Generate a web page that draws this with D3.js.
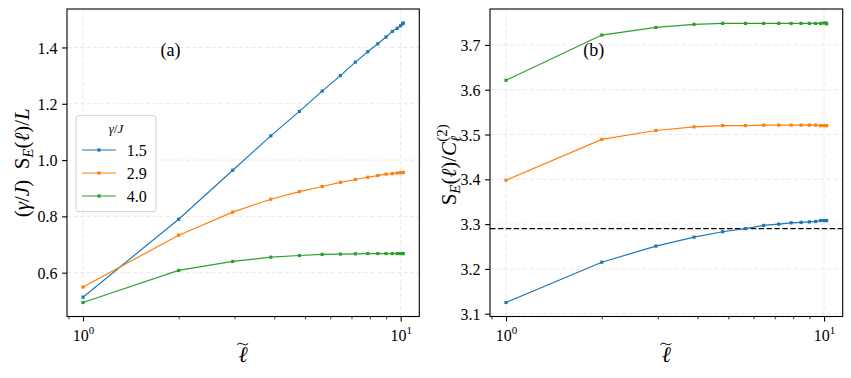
<!DOCTYPE html>
<html>
<head>
<meta charset="utf-8">
<script src="https://cdn.jsdelivr.net/npm/d3@7"></script>
<style>
  body { margin: 0; background: #fff; }
  text { font-family: "Liberation Serif", "Times New Roman", serif; }
</style>
</head>
<body>
<div id="chart"></div>
<script>
// 데이터
const ellTilde = [1.0, 2.0, 2.96, 3.90, 4.80, 5.66, 6.46, 7.20, 7.88, 8.47, 8.99, 9.41, 9.75, 9.99, 10.14, 10.19];
const gammaLabels = ["1.5", "2.9", "4.0"];
const colors = ["#1f77b4", "#ff7f0e", "#2ca02c"];

// (a) (γ/J) S_E(ℓ)/L
const leftG15 = [0.513, 0.790, 0.964, 1.086, 1.173, 1.245, 1.300, 1.348, 1.385, 1.413, 1.437, 1.457, 1.468, 1.477, 1.484, 1.487];
const leftG29 = [0.549, 0.733, 0.815, 0.861, 0.888, 0.906, 0.921, 0.931, 0.939, 0.945, 0.950, 0.952, 0.954, 0.955, 0.956, 0.956];
const leftG40 = [0.494, 0.608, 0.640, 0.655, 0.661, 0.665, 0.666, 0.667, 0.668, 0.668, 0.668, 0.668, 0.668, 0.668, 0.668, 0.668];

// (b) S_E(ℓ)/C_ℓ^(2)
const rightG15 = [3.125, 3.215, 3.251, 3.271, 3.283, 3.290, 3.297, 3.300, 3.303, 3.304, 3.305, 3.306, 3.308, 3.308, 3.308, 3.308];
const rightG29 = [3.398, 3.489, 3.509, 3.517, 3.520, 3.520, 3.521, 3.521, 3.521, 3.521, 3.521, 3.521, 3.520, 3.520, 3.520, 3.520];
const rightG40 = [3.621, 3.722, 3.739, 3.746, 3.748, 3.748, 3.748, 3.748, 3.748, 3.748, 3.748, 3.748, 3.748, 3.749, 3.749, 3.747];
const refLine = 3.29;

const leftTicks = [0.6, 0.8, 1.0, 1.2, 1.4];
const rightTicks = [3.1, 3.2, 3.3, 3.4, 3.5, 3.6, 3.7];
const xMajor = [1, 10];
const xMinor = [0.9, 2, 3, 4, 5, 6, 7, 8, 9];

const serif = "Liberation Serif";
const width = 851, height = 378;
const svg = d3.select("#chart").append("svg")
  .attr("width", width).attr("height", height);

// 로그축 여백 5% (matplotlib 기본)
function logDomain(xs) {
  const lo = Math.log10(d3.min(xs)), hi = Math.log10(d3.max(xs));
  const m = (hi - lo) * 0.05;
  return [Math.pow(10, lo - m), Math.pow(10, hi + m)];
}
function linDomain(vals) {
  const lo = d3.min(vals), hi = d3.max(vals);
  const m = (hi - lo) * 0.05;
  return [lo - m, hi + m];
}

function drawPanel(box, series, yTicks, tag, hline) {
  const g = svg.append("g");
  const x = d3.scaleLog().domain(logDomain(ellTilde)).range([box.x0, box.x1]);
  const y = d3.scaleLinear().domain(linDomain(series.flat())).range([box.y1, box.y0]);

  // 격자
  g.append("g").selectAll("line").data(xMajor).enter().append("line")
    .attr("x1", d => x(d)).attr("x2", d => x(d))
    .attr("y1", box.y0).attr("y2", box.y1)
    .attr("stroke", "#e2e2e2").attr("stroke-width", 0.8).attr("stroke-dasharray", "4,2.6");
  g.append("g").selectAll("line").data(yTicks).enter().append("line")
    .attr("x1", box.x0).attr("x2", box.x1)
    .attr("y1", d => y(d)).attr("y2", d => y(d))
    .attr("stroke", "#e2e2e2").attr("stroke-width", 0.8).attr("stroke-dasharray", "4,2.6");

  // 기준선
  if (hline !== undefined) {
    g.append("line")
      .attr("x1", box.x0).attr("x2", box.x1)
      .attr("y1", y(hline)).attr("y2", y(hline))
      .attr("stroke", "#000").attr("stroke-width", 1.4).attr("stroke-dasharray", "5.5,2.4");
  }

  const line = d3.line().x((d, i) => x(ellTilde[i])).y(d => y(d));
  series.forEach((s, k) => {
    g.append("path").datum(s)
      .attr("d", line).attr("fill", "none")
      .attr("stroke", colors[k]).attr("stroke-width", 1.2);
    g.append("g").selectAll("rect").data(s).enter().append("rect")
      .attr("x", (d, i) => x(ellTilde[i]) - 1.6)
      .attr("y", d => y(d) - 1.6)
      .attr("width", 3.2).attr("height", 3.2)
      .attr("fill", colors[k]);
  });

  // 테두리
  g.append("rect")
    .attr("x", box.x0).attr("y", box.y0)
    .attr("width", box.x1 - box.x0).attr("height", box.y1 - box.y0)
    .attr("fill", "none").attr("stroke", "#000").attr("stroke-width", 1.1);

  // y축
  const yAxis = g.append("g").attr("transform", `translate(${box.x0},0)`)
    .call(d3.axisLeft(y).tickValues(yTicks).tickSize(4.9).tickPadding(4.5).tickFormat(d3.format(".1f")));
  yAxis.attr("font-family", serif);
  yAxis.select(".domain").remove();
  yAxis.selectAll("line").attr("stroke", "#000").attr("stroke-width", 1.1);
  yAxis.selectAll("text").attr("font-size", 16).attr("fill", "#000")
    .attr("font-family", serif).attr("dy", "0.35em");

  // x축 (major)
  const xAxis = g.append("g").attr("transform", `translate(0,${box.y1})`)
    .call(d3.axisBottom(x).tickValues(xMajor).tickSize(4.9).tickPadding(4.5).tickFormat(""));
  xAxis.attr("font-family", serif);
  xAxis.select(".domain").remove();
  xAxis.selectAll("line").attr("stroke", "#000").attr("stroke-width", 1.1);
  xAxis.selectAll(".tick text").each(function (d) {
    const t = d3.select(this).attr("font-size", 16).attr("fill", "#000")
      .attr("font-family", serif).attr("dy", "0.95em");
    t.append("tspan").text("10");
    t.append("tspan").attr("dy", -7).attr("font-size", 11).text(Math.round(Math.log10(d)));
  });
  // x축 (minor)
  const xMinorAxis = g.append("g").attr("transform", `translate(0,${box.y1})`)
    .call(d3.axisBottom(x).tickValues(xMinor.filter(v => v >= x.domain()[0])).tickSize(2.8).tickFormat(""));
  xMinorAxis.select(".domain").remove();
  xMinorAxis.selectAll("line").attr("stroke", "#000").attr("stroke-width", 0.8);

  // x 라벨: 물결표 + ℓ
  const cx = (box.x0 + box.x1) / 2;
  g.append("text").attr("x", cx).attr("y", 362)
    .attr("text-anchor", "middle").attr("font-size", 22).attr("font-style", "italic")
    .attr("font-family", serif).text("ℓ");
  g.append("path")
    .attr("d", `M${cx - 6},${344.5} q2.5,-2.5 5.5,-0.5 q3,2 5.5,-0.5`)
    .attr("fill", "none").attr("stroke", "#000").attr("stroke-width", 1);

  // 패널 태그
  g.append("text")
    .attr("x", box.x0 + 0.294 * (box.x1 - box.x0)).attr("y", 56)
    .attr("text-anchor", "middle").attr("font-size", 18)
    .attr("font-family", serif).text(tag);

  return { g, x, y };
}

const leftBox = { x0: 67, x1: 419.3, y0: 9, y1: 316.5 };
const rightBox = { x0: 490, x1: 842.7, y0: 9, y1: 316.5 };

drawPanel(leftBox, [leftG15, leftG29, leftG40], leftTicks, "(a)");
drawPanel(rightBox, [rightG15, rightG29, rightG40], rightTicks, "(b)", refLine);

// y 라벨 (왼쪽)
const ylabL = svg.append("text")
  .attr("transform", `translate(29,${(leftBox.y0 + leftBox.y1) / 2}) rotate(-90)`)
  .attr("text-anchor", "middle").attr("font-size", 21).attr("font-family", serif);
ylabL.append("tspan").text("(");
ylabL.append("tspan").attr("font-style", "italic").text("γ");
ylabL.append("tspan").text("/");
ylabL.append("tspan").attr("font-style", "italic").text("J");
ylabL.append("tspan").text(")\u2002S");
ylabL.append("tspan").attr("font-style", "italic").attr("font-size", 15).attr("dy", 4).text("E");
ylabL.append("tspan").attr("dy", -4).text("(");
ylabL.append("tspan").attr("font-style", "italic").text("ℓ");
ylabL.append("tspan").text(")/");
ylabL.append("tspan").attr("font-style", "italic").text("L");

// y 라벨 (오른쪽)
const ylabR = svg.append("text")
  .attr("transform", `translate(456,${(rightBox.y0 + rightBox.y1) / 2 + 2}) rotate(-90)`)
  .attr("text-anchor", "middle").attr("font-size", 21).attr("font-family", serif);
ylabR.append("tspan").text("S");
ylabR.append("tspan").attr("font-style", "italic").attr("font-size", 15).attr("dy", 4).text("E");
ylabR.append("tspan").attr("dy", -4).text("(");
ylabR.append("tspan").attr("font-style", "italic").text("ℓ");
ylabR.append("tspan").text(")/");
ylabR.append("tspan").attr("font-style", "italic").text("C");
ylabR.append("tspan").attr("font-style", "italic").attr("font-size", 15).attr("dy", 5).text("ℓ");
ylabR.append("tspan").attr("font-size", 15).attr("dx", -6).attr("dy", -14).text("(2)");

// 범례
const legend = svg.append("g").attr("transform", "translate(76,115.7)");
legend.append("rect")
  .attr("width", 80).attr("height", 96).attr("rx", 3)
  .attr("fill", "#fff").attr("fill-opacity", 0.8)
  .attr("stroke", "#d0d0d0").attr("stroke-width", 1);
const lt = legend.append("text").attr("x", 40).attr("y", 17)
  .attr("text-anchor", "middle").attr("font-size", 13).attr("font-style", "italic")
  .attr("font-family", serif);
lt.append("tspan").text("γ");
lt.append("tspan").attr("font-style", "normal").text("/");
lt.append("tspan").text("J");
gammaLabels.forEach((lab, k) => {
  const row = legend.append("g").attr("transform", `translate(0,${34.3 + k * 23})`);
  row.append("line").attr("x1", 6).attr("x2", 40).attr("y1", 0).attr("y2", 0)
    .attr("stroke", colors[k]).attr("stroke-width", 1.2);
  row.append("rect").attr("x", 21.4).attr("y", -1.6).attr("width", 3.2).attr("height", 3.2)
    .attr("fill", colors[k]);
  row.append("text").attr("x", 50.7).attr("y", 5.5).attr("font-size", 16)
    .attr("font-family", serif).text(lab);
});
</script>
</body>
</html>
